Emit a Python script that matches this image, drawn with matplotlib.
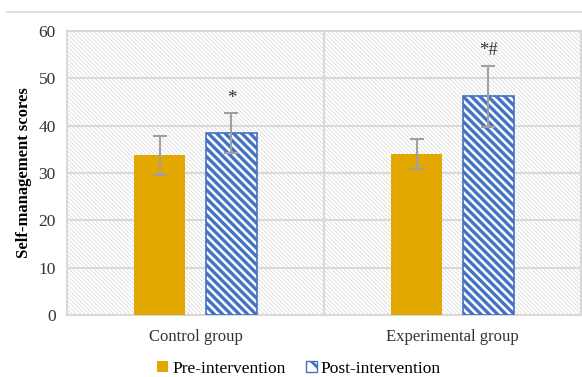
import matplotlib
matplotlib.use("Agg")
import matplotlib.pyplot as plt
from matplotlib.patches import Rectangle, Patch
from matplotlib.lines import Line2D
import numpy as np

# Data
groups = ['Control group', 'Experimental group']
pre_means = [33.7, 34.0]
pre_sd = [4.2, 3.2]
post_means = [38.4, 46.2]
post_sd = [4.2, 6.5]
marks = ['*', '*#']

plt.rcParams['font.family'] = ['Liberation Serif', 'DejaVu Serif']
plt.rcParams['hatch.linewidth'] = 2.0

fig = plt.figure(figsize=(5.82, 3.77), dpi=100)
ax = fig.add_axes([67 / 582, 1 - 315 / 377, (581 - 67) / 582, (315 - 31) / 377])

grid_c = '#d9d9d9'
x = np.arange(len(groups))
w = 0.2
off = 0.14

# hatched background of the plot area
bg = Rectangle((0, 0), 1, 1, transform=ax.transAxes, facecolor='white',
               edgecolor='#d6d6d6', hatch='\\' * 8, linewidth=0, zorder=0)
try:
    bg.set_hatch_linewidth(0.5)
except AttributeError:
    pass
ax.add_patch(bg)

ax.bar(x - off, pre_means, w, color='#e3a800', zorder=3)
post = ax.bar(x + off, post_means, w, facecolor='white', edgecolor='#4472c4',
              hatch='\\' * 4, linewidth=1.2, zorder=3)
for b in post:
    try:
        b.set_hatch_linewidth(2.4)
    except AttributeError:
        pass

err_kw = dict(fmt='none', ecolor='#a0a0a0', elinewidth=1.5, capsize=5, capthick=1.5, zorder=4)
ax.errorbar(x - off, pre_means, yerr=pre_sd, **err_kw)
ax.errorbar(x + off, post_means, yerr=post_sd, **err_kw)

for xi, m, s, t in zip(x, post_means, post_sd, marks):
    ax.text(xi + off, m + s + 1.3, t, ha='center', va='bottom', fontsize=13.5, color='#333333')

ax.set_ylim(0, 60)
ax.set_xlim(-0.5, 1.5)
ax.set_yticks(range(0, 61, 10))
ax.yaxis.grid(True, color=grid_c, linewidth=1.5, zorder=1)
ax.set_axisbelow(True)
ax.axvline(0.5, color=grid_c, linewidth=1.5, zorder=1)
ax.set_xticks(x)
ax.set_xticklabels(groups, fontsize=12, color='#333333')
ax.tick_params(axis='y', labelsize=12.5, length=0, pad=8, colors='#333333')
ax.tick_params(axis='x', length=0, pad=10)
for s in ax.spines.values():
    s.set_color(grid_c)
    s.set_linewidth(1.5)

ax.set_ylabel('Self-management scores', fontsize=12, fontweight='bold', labelpad=5)

# thin line at the top of the chart area
fig.add_artist(Line2D([7 / 582, 1], [1 - 12 / 377, 1 - 12 / 377], color=grid_c, linewidth=1.2))

handles = [Patch(facecolor='#e3a800', label='Pre-intervention'),
           Patch(facecolor='white', edgecolor='#4472c4', hatch='\\\\', label='Post-intervention')]
fig.legend(handles=handles, loc='center', bbox_to_anchor=(0.514, 1 - 369 / 377), ncol=2,
           frameon=False, fontsize=12.5, handlelength=0.6, handleheight=0.6,
           handletextpad=0.25, columnspacing=1.2)

fig.savefig('out.png', dpi=100)
